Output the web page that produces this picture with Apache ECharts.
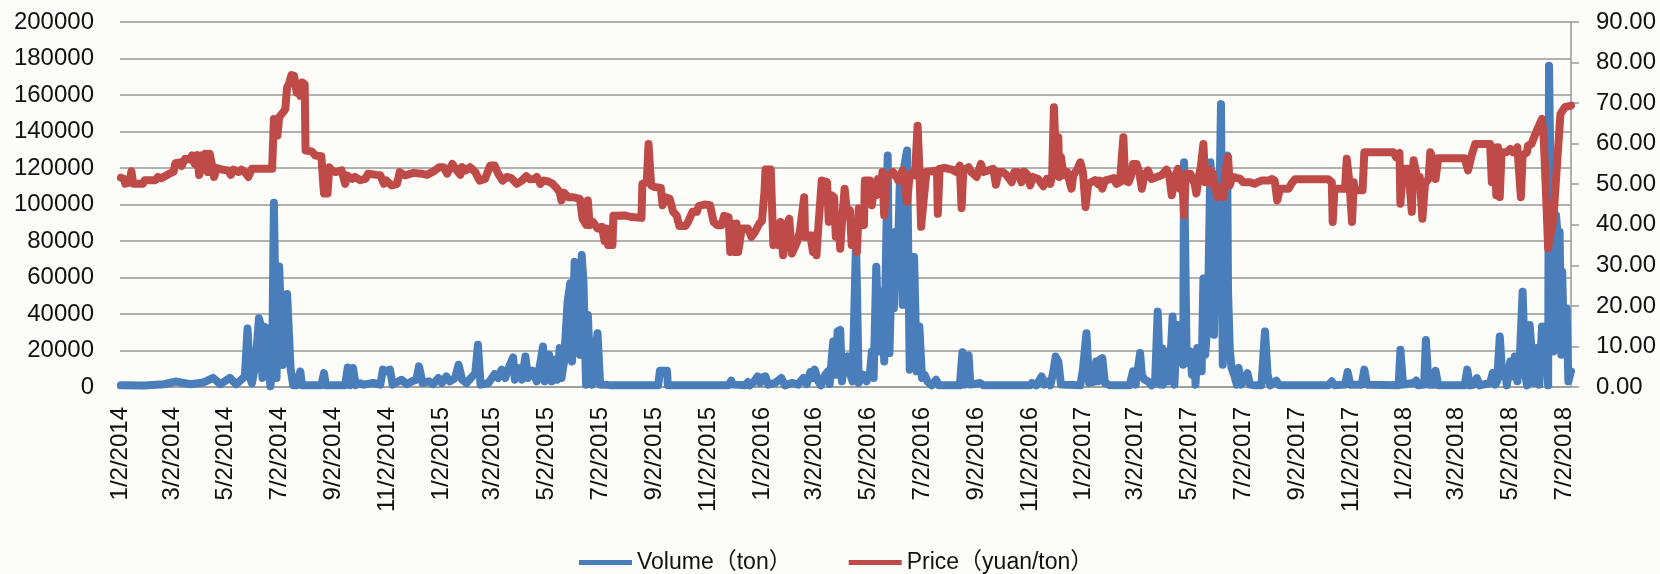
<!DOCTYPE html>
<html>
<head>
<meta charset="utf-8">
<script src="https://cdn.jsdelivr.net/npm/echarts@6/dist/echarts.min.js"></script>
<style>
html, body { margin: 0; padding: 0; background: #fcfcf8; }
#main { width: 1660px; height: 574px; }
</style>
</head>
<body>
<div id="main"></div>
<script>
// days are counted from 1/2/2014
var volDays = [1,28,50,63,80,95,106,114,125,132,138,142,145,148,150,154,158,160,162,164,167,168,171,173,175,178,181,183,185,187,190,191,194,197,201,205,207,229,232,234,256,259,262,265,268,273,
  277,288,296,299,303,307,310,320,326,332,337,340,344,351,356,362,366,371,375,381,385,389,394,404,407,410,419,426,430,434,438,442,447,449,453,457,461,464,469,474,478,481,483,488,491,494,497,500,502,505,509,512,514,516,517,520,523,525,527,530,532,534,537,540,543,546,551,
  559,612,614,622,623,673,675,692,695,697,711,714,716,720,725,728,730,734,737,745,752,756,764,771,777,781,785,788,790,794,797,802,805,807,811,814,816,819,821,824,827,830,
  833,837,840,845,849,853,855,857,860,863,866,869,873,875,878,880,882,884,887,890,892,895,897,898,903,906,909,912,915,918,923,928,931,955,958,961,965,967,978,982,1035,1037,1042,1048,1051,1056,1058,1061,1064,1067,1070,1092,1095,1099,1102,1109,
  1110,1112,1114,1117,1120,1126,1148,1152,1155,1160,1162,1165,1169,1173,1177,1180,1183,1185,1186,1189,1192,1194,1197,1199,1202,1204,1207,1209,1210,1213,1217,1219,1222,1223,1225,1228,1230,1232,1234,1237,1240,1242,1244,1247,1249,1252,1254,1257,1259,1260,1262,1264,1267,1270,1272,1275,1279,1282,1285,1291,1298,1302,1305,1308,1315,1318,1374,1378,1381,
  1393,1396,1399,1412,1415,1418,1454,1456,1459,1471,1474,1476,1483,1485,1488,1494,1496,1499,1529,1532,1535,1540,1543,1546,1558,1561,1564,1566,1569,1572,1575,1577,1581,1584,1586,1589,1592,1595,1598,1600,1603,1605,1608,1611,1614,1617,1619,1622,1624,1625,1628,1630,1633,1636,1637,1639,1640,1642,1645,1647,1650];
var volValues = [900,800,1500,3000,1500,2500,5000,1500,5000,1500,4000,5800,32000,5000,2000,12000,37700,34000,5000,33000,6700,32000,400,10000,101000,5000,66000,65000,12000,30000,51000,50000,10000,1000,1000,8500,1000,1000,7600,1000,1000,10700,1000,10400,1000,2000,
  1300,2200,1300,9500,8500,9500,1300,4000,1600,3100,4000,11300,2200,3100,1600,4900,2200,5800,3100,4900,12200,4000,2200,7600,23100,1300,2200,7100,4900,9500,4900,10400,16200,4000,10400,4000,16700,4900,8900,3100,13100,22200,3100,17700,3100,14900,4000,21300,4900,14000,46800,56800,14000,52200,68600,65000,17700,72300,57700,1300,39500,17700,1300,15800,29500,1300,1300,
  900,900,8900,8900,900,900,1600,900,3500,1300,900,2700,900,2200,5800,2200,5300,5800,1300,2200,4900,900,2200,1300,4900,1600,8200,4900,9500,3100,900,6700,8600,1600,24900,6700,30400,31300,3100,15800,16700,7600,
  3100,80000,2200,6700,3100,8600,19500,4900,65900,19500,52200,14000,126900,18600,75000,43100,85000,61300,115900,45000,121400,129600,48600,9500,71300,8600,33100,4900,6700,3100,900,4000,900,900,19100,1300,17300,1300,2200,900,900,2200,900,5800,1300,3100,900,7600,16700,14000,1300,900,9500,29500,2200,3100,
  14000,3100,14900,15800,2200,900,900,8600,1300,18600,6700,4000,3100,900,2200,41300,1300,21300,1300,19500,3100,10400,38600,1300,34000,17700,19500,12200,123200,13100,19500,6700,17700,1300,21300,19500,8600,59500,17700,37700,123200,97700,28600,94100,61300,155000,12200,110500,126900,52200,20400,10400,6700,1300,10400,1300,4000,7600,1300,900,900,30400,6700,900,3500,900,900,3100,900,
  1300,8200,1300,1300,9500,1300,900,20400,1300,2200,3500,900,1300,25800,1300,1300,8900,900,900,9500,900,1300,4900,900,2200,7600,1300,3100,27700,5800,9500,900,14000,5800,16700,3100,18600,52200,6700,900,34000,33100,2200,21300,1300,33100,15800,24000,900,176000,65000,19500,94100,75900,85000,17700,63200,21300,43100,3100,8600];

var priceDays = [1,5,6,11,13,15,26,28,40,43,47,57,61,63,68,70,74,80,82,85,88,90,92,95,97,100,102,104,107,110,116,123,126,129,135,138,142,146,150,173,175,177,179,181,186,188,190,192,195,198,201,203,205,207,210,211,218,222,229,231,232,236,238,241,245,252,256,258,264,267,273,
  279,282,292,296,300,303,309,315,318,324,334,343,349,356,363,368,372,378,383,387,389,393,398,404,409,415,421,426,430,435,440,445,451,457,462,466,471,474,478,482,487,492,497,500,502,505,510,515,523,526,530,532,534,538,543,548,551,553,
  555,560,561,574,582,593,594,599,601,604,608,615,617,620,625,629,633,636,643,646,651,656,658,665,671,675,679,684,687,692,694,696,699,701,703,707,714,718,722,727,730,733,734,740,743,746,748,751,754,758,761,764,770,773,778,779,785,788,790,792,794,798,804,806,809,812,814,817,819,821,824,827,
  830,832,835,838,840,843,846,847,853,855,857,860,862,865,867,869,872,876,879,882,885,890,895,898,902,904,907,909,911,914,917,929,930,932,938,946,951,955,957,959,965,968,974,979,982,993,996,999,1004,1008,1014,1017,1021,1025,1028,1031,1035,1038,1044,1050,1054,1058,1060,1062,1064,1067,1068,1070,1073,1077,1082,1084,1089,1092,1095,1098,1101,1109,
  1112,1114,1117,1120,1130,1133,1137,1141,1143,1147,1150,1152,1156,1159,1162,1165,1169,1173,1179,1185,1190,1193,1196,1199,1203,1205,1208,1210,1212,1217,1219,1222,1224,1227,1229,1232,1234,1238,1240,1242,1245,1248,1251,1255,1257,1260,1262,1265,1274,1277,1285,1290,1294,1298,1306,1310,1313,1316,1319,1329,1332,1336,1374,1378,1379,1381,
  1393,1395,1398,1401,1403,1404,1413,1415,1448,1451,1455,1456,1459,1465,1469,1471,1475,1478,1481,1484,1488,1490,1493,1496,1499,1529,1533,1537,1541,1558,1560,1562,1564,1565,1567,1569,1571,1577,1581,1584,1589,1593,1595,1600,1601,1605,1611,1617,1619,1622,1624,1630,1634,1638,1643,1650];
var priceValues = [51.6,51.3,50.1,50.5,53.2,50.1,50.1,51.0,51.0,51.8,51.5,52.7,53.1,55.2,55.4,54.5,56.3,56.1,57.1,55.0,57.2,52.3,57.1,53.4,57.5,53.0,57.5,55.4,51.8,54.0,53.6,53.4,52.3,53.6,53.0,53.6,53.0,51.8,53.8,53.8,66.1,65.3,62.0,66.5,67.9,68.5,73.9,74.7,76.9,76.7,72.6,74.3,71.8,75.1,74.7,58.3,58.1,57.1,56.9,50.5,47.7,47.7,54.2,53.4,53.0,53.4,50.1,52.2,51.3,51.8,51.0,
  51.3,52.6,52.3,52.2,50.1,50.9,49.7,50.1,53.0,52.2,52.8,52.6,52.3,53.1,54.2,54.2,52.6,55.0,53.4,52.3,54.2,53.4,54.2,53.0,50.9,51.3,54.6,54.6,52.6,50.9,51.8,51.5,50.1,50.9,52.0,51.2,51.3,51.8,50.1,50.9,50.7,50.1,48.9,48.1,46.0,47.9,46.8,46.8,46.4,41.5,40.0,46.0,39.9,40.7,39.1,39.5,36.0,39.1,
  35.0,35.0,42.2,42.3,41.9,41.7,50.1,50.5,59.9,49.7,49.3,49.1,44.8,46.8,46.4,43.2,42.3,39.7,39.7,40.7,43.2,43.2,44.6,45.0,44.8,40.7,39.9,39.9,42.2,41.9,33.3,40.3,33.3,40.3,33.3,39.1,39.1,37.0,38.2,40.3,40.9,48.5,53.6,53.6,35.0,38.2,35.0,40.7,32.5,39.9,41.5,32.9,35.8,38.2,46.8,37.0,37.4,33.3,37.4,32.5,39.1,50.9,50.5,40.7,47.3,46.8,37.0,41.5,34.1,40.7,48.9,42.3,
  43.6,35.0,38.7,33.3,44.0,43.2,39.9,50.9,50.9,44.8,48.9,47.3,51.3,47.7,53.0,42.3,52.2,52.2,53.0,52.2,50.9,53.4,45.6,52.2,53.0,52.2,64.4,53.8,39.5,46.4,53.0,53.4,42.7,53.8,54.0,53.6,53.0,54.6,44.1,53.4,54.2,53.0,51.8,55.0,53.0,53.8,49.9,53.0,53.0,52.3,50.5,53.0,53.0,50.5,53.1,52.6,49.7,51.8,51.3,49.5,51.3,50.1,52.2,69.0,57.1,61.6,51.8,56.7,52.2,53.0,48.9,52.2,53.8,55.4,53.0,44.4,50.1,51.0,
  50.1,50.9,48.9,50.9,51.5,50.1,50.5,61.6,50.9,50.5,52.3,55.0,55.0,53.0,48.9,52.3,53.4,51.3,51.8,52.3,53.6,52.3,47.3,51.3,53.8,48.9,51.3,42.3,52.6,52.6,53.0,50.1,47.7,52.2,54.2,59.9,50.5,53.8,50.1,53.0,49.7,46.8,48.9,46.8,53.0,56.7,49.7,51.8,51.3,50.5,50.5,50.1,50.5,50.9,50.9,51.3,50.9,46.0,48.9,48.9,50.1,51.2,51.2,50.5,40.7,48.9,
  48.9,56.3,50.5,40.7,50.5,48.5,48.5,57.9,57.9,56.7,57.7,45.2,53.8,53.8,43.2,55.9,51.8,51.8,41.5,50.1,51.3,57.9,56.3,51.3,56.4,56.4,53.4,57.1,59.9,59.9,50.5,59.1,57.1,47.3,59.1,46.8,57.9,57.9,58.7,57.9,59.1,46.8,57.1,57.9,59.5,59.9,63.2,66.1,61.2,45.6,34.2,41.5,54.6,67.3,69.0,69.4];

var volName = 'Volume（ton）';
var priceName = 'Price（yuan/ton）';

var start = Date.UTC(2014, 0, 2);
var dates = [];
for (var i = 0; i <= 1650; i++) {
  var d = new Date(start + i * 86400000);
  dates.push((d.getUTCMonth() + 1) + '/' + d.getUTCDate() + '/' + d.getUTCFullYear());
}

function pairs(days, vals) {
  return days.map(function (day, k) { return [day, vals[k]]; });
}

var font = "'Liberation Sans', 'Noto Sans CJK SC', sans-serif";
var myChart = echarts.init(document.getElementById('main'));

var option = {
  backgroundColor: '#fcfcf8',
  animation: false,
  textStyle: { fontFamily: font },
  grid: { left: 120, right: 89, top: 22, bottom: 187 },
  legend: {
    data: [volName, priceName],
    left: 574,
    top: 546,
    icon: 'rect',
    itemWidth: 53,
    itemHeight: 5,
    itemGap: 57,
    textStyle: { fontSize: 23, color: '#111', fontFamily: font }
  },
  xAxis: {
    type: 'category',
    data: dates,
    boundaryGap: false,
    axisLine: { lineStyle: { color: '#999', width: 1.5 } },
    axisTick: { show: false },
    axisLabel: {
      interval: function (index, value) { return /^(1|3|5|7|9|11)\/2\//.test(value); },
      rotate: 90,
      margin: 20,
      fontSize: 24,
      color: '#111',
      fontFamily: font
    }
  },
  yAxis: [{
    type: 'value',
    min: 0,
    max: 200000,
    interval: 20000,
    axisLine: { show: false },
    axisTick: { show: false },
    splitLine: { lineStyle: { color: '#999', width: 1.5 } },
    axisLabel: {
      fontSize: 24, margin: 26, color: '#111', fontFamily: font,
      formatter: function (v) { return String(v); }
    }
  }, {
    type: 'value',
    min: 0,
    max: 90,
    interval: 10,
    position: 'right',
    axisLine: { show: true, lineStyle: { color: '#999', width: 1.5 } },
    axisTick: { show: true, length: 8, lineStyle: { color: '#999', width: 1.5 } },
    splitLine: { show: false },
    axisLabel: {
      fontSize: 24, margin: 25, color: '#111', fontFamily: font,
      formatter: function (v) { return v.toFixed(2); }
    }
  }],
  series: [{
    name: volName,
    type: 'line',
    yAxisIndex: 0,
    data: pairs(volDays, volValues),
    showSymbol: false,
    symbol: 'none',
    color: '#4a7ebb',
    lineStyle: { width: 8, color: '#4a7ebb', join: 'round', cap: 'round' },
    emphasis: { disabled: true }
  }, {
    name: priceName,
    type: 'line',
    yAxisIndex: 1,
    data: pairs(priceDays, priceValues),
    showSymbol: false,
    symbol: 'none',
    color: '#be4b48',
    lineStyle: { width: 8, color: '#be4b48', join: 'round', cap: 'round' },
    emphasis: { disabled: true }
  }]
};

myChart.setOption(option);
</script>
</body>
</html>
